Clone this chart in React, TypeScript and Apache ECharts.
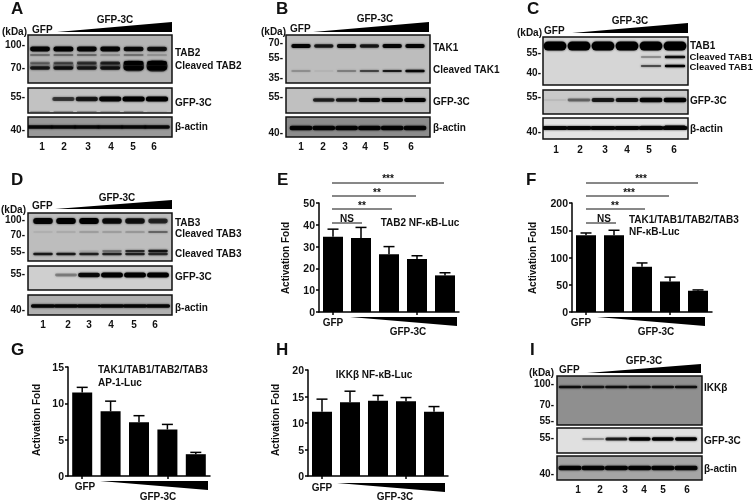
import React, { useEffect, useRef } from "react";
import * as echarts from "echarts";

// ---------- bar data ----------
const barCategories = ["GFP", "GFP-3C 1", "GFP-3C 2", "GFP-3C 3", "GFP-3C 4"];
const eMeans = [34.5, 34, 26.5, 24.3, 16.8];
const eUppers = [38, 38.8, 30, 25.8, 18];
const fMeans = [141, 141, 83, 56, 39];
const fUppers = [145, 150, 90, 64, 40.5];
const gMeans = [11.5, 8.9, 7.4, 6.4, 3];
const gUppers = [12.2, 10.3, 8.3, 7.1, 3.25];
const hMeans = [12.1, 13.9, 14.2, 14.1, 12.1];
const hUppers = [14.5, 16, 15.2, 14.8, 13.1];

// ---------- blot band densities, one value per lane ----------
const tab2Full = [0.95, 1, 0.95, 0.95, 0.9, 0.85];
const tab2Faint = [0.4, 0.45, 0.45, 0.35, 0.4, 0.3];
const tab2CleavedA = [0.3, 0.4, 0.55, 0.65, 1, 1];
const tab2CleavedB = [0.75, 0.8, 0.7, 0.75, 0.95, 1];
const tab2Smear = [0.15, 0.25, 0.25, 0.3, 0.65, 0.75];
const gfpA = [0, 0.6, 0.8, 0.95, 1, 1];
const lowerFaintA = [0.2, 0.25, 0.25, 0.2, 0.25, 0.15];
const actinA = [0.9, 0.9, 0.9, 0.9, 0.9, 0.9];
const tak1Full = [0.95, 0.8, 0.9, 0.8, 0.95, 0.95];
const tak1Cleaved = [0.25, 0.08, 0.35, 0.55, 0.8, 0.95];
const gfpB = [0, 0.75, 0.8, 0.9, 0.95, 1];
const actinB = [0.95, 0.95, 0.95, 0.95, 0.95, 0.95];
const tab1Full = [1, 1, 1, 1, 1, 1];
const tab1CleavedA = [0, 0, 0, 0, 0.35, 0.9];
const tab1CleavedB = [0, 0, 0, 0, 0.55, 1];
const gfpC = [0.05, 0.4, 0.8, 0.85, 0.95, 1];
const actinC = [0.95, 0.95, 0.95, 0.95, 0.95, 0.95];
const actinCUpper = [0, 0, 0, 0, 0.3, 0.7];
const tab3Full = [0.95, 1, 1, 0.9, 0.85, 0.7];
const tab3Faint = [0.1, 0.15, 0.25, 0.25, 0.3, 0.5];
const tab3CleavedA = [0, 0, 0.1, 0.4, 0.7, 0.85];
const tab3CleavedB = [0.8, 0.8, 0.75, 0.75, 0.75, 0.7];
const gfpD = [0, 0.3, 0.9, 1, 1, 1];
const actinD = [0.95, 0.95, 0.95, 0.95, 0.95, 0.95];
const ikkFull = [0.85, 0.8, 0.85, 0.85, 0.85, 0.85];
const gfpI = [0, 0.3, 0.8, 1, 1, 1];
const actinI = [0.95, 0.95, 0.95, 0.95, 0.95, 0.95];

// ---------- layout ----------
const FF = '"Liberation Sans", Arial, sans-serif';
const laneLabels = ["1", "2", "3", "4", "5", "6"];

type Row = { y: number; h: number; w?: number; levels: number[] };
type Panel = { top: number; bottom: number; bg: string; rows: Row[] };
type Blot = { left: number; right: number; first: number; last: number; panels: Panel[] };

const blots: Blot[] = [
  {
    left: 28, right: 172, first: 40, last: 157,
    panels: [
      { top: 35, bottom: 83, bg: "#b4b4b4", rows: [
        { y: 31, h: 13, w: 0.9, levels: tab2Smear },
        { y: 14, h: 5, levels: tab2Full },
        { y: 20, h: 2, levels: tab2Faint },
        { y: 28, h: 4, levels: tab2CleavedA },
        { y: 33, h: 4, levels: tab2CleavedB },
      ] },
      { top: 88, bottom: 113, bg: "#c2c2c2", rows: [
        { y: 11, h: 5, w: 0.95, levels: gfpA },
        { y: 23.5, h: 1.5, w: 0.85, levels: lowerFaintA },
      ] },
      { top: 117, bottom: 137, bg: "#999999", rows: [{ y: 10, h: 3.5, w: 1.1, levels: actinA }] },
    ],
  },
  {
    left: 286, right: 430, first: 301, last: 415,
    panels: [
      { top: 35, bottom: 83, bg: "#bdbdbd", rows: [
        { y: 11, h: 4, levels: tak1Full },
        { y: 36, h: 2.5, levels: tak1Cleaved },
      ] },
      { top: 88, bottom: 113, bg: "#c0c0c0", rows: [{ y: 12, h: 4, w: 0.95, levels: gfpB }] },
      { top: 117, bottom: 137, bg: "#8c8c8c", rows: [{ y: 11, h: 4.5, w: 1.0, levels: actinB }] },
    ],
  },
  {
    left: 543, right: 688, first: 555, last: 675,
    panels: [
      { top: 37, bottom: 85, bg: "#d6d6d6", rows: [
        { y: 9, h: 9, w: 0.95, levels: tab1Full },
        { y: 20, h: 2.5, levels: tab1CleavedA },
        { y: 29, h: 2.5, levels: tab1CleavedB },
      ] },
      { top: 90, bottom: 114, bg: "#c9c9c9", rows: [{ y: 10, h: 4.5, w: 0.95, levels: gfpC }] },
      { top: 118, bottom: 139, bg: "#e4e4e4", rows: [
        { y: 8, h: 2, levels: actinCUpper },
        { y: 10, h: 4, w: 1.05, levels: actinC },
      ] },
    ],
  },
  {
    left: 28, right: 172, first: 43, last: 158,
    panels: [
      { top: 213, bottom: 261, bg: "#bdbdbd", rows: [
        { y: 8, h: 6, levels: tab3Full },
        { y: 19, h: 2, levels: tab3Faint },
        { y: 38, h: 2.5, levels: tab3CleavedA },
        { y: 41, h: 3, levels: tab3CleavedB },
      ] },
      { top: 266, bottom: 290, bg: "#cfcfcf", rows: [{ y: 9, h: 5, w: 0.95, levels: gfpD }] },
      { top: 295, bottom: 315, bg: "#b0b0b0", rows: [{ y: 11, h: 3.5, w: 1.05, levels: actinD }] },
    ],
  },
  {
    left: 557, right: 702, first: 570, last: 686,
    panels: [
      { top: 376, bottom: 425, bg: "#8f8f8f", rows: [{ y: 11, h: 3, w: 0.97, levels: ikkFull }] },
      { top: 428, bottom: 453, bg: "#e0e0e0", rows: [{ y: 11, h: 3.5, w: 0.95, levels: gfpI }] },
      { top: 456, bottom: 480, bg: "#a5a5a5", rows: [{ y: 12, h: 4.5, w: 1.0, levels: actinI }] },
    ],
  },
];

const barCharts = [
  { left: 319, top: 203, height: 109, width: 140, max: 50, step: 10, means: eMeans, uppers: eUppers },
  { left: 572, top: 203, height: 109, width: 140, max: 200, step: 50, means: fMeans, uppers: fUppers },
  { left: 68, top: 367, height: 109, width: 142, max: 15, step: 5, means: gMeans, uppers: gUppers },
  { left: 308, top: 370, height: 106, width: 140, max: 20, step: 5, means: hMeans, uppers: hUppers },
];

const TS = 10;
function text(t: string, x: number, y: number, size = TS, align = "left", rotation = 0) {
  return {
    type: "text", x, y, rotation, z: 50,
    style: { text: t, font: `bold ${size}px ${FF}`, fill: "#111", textAlign: align, textVerticalAlign: "middle" },
  };
}
const tri = (pts: number[][]) => ({ type: "polygon", z: 50, shape: { points: pts }, style: { fill: "#000" } });
const hline = (x1: number, x2: number, y: number) => ({
  type: "line", z: 50, shape: { x1, y1: y, x2, y2: y }, style: { stroke: "#111", lineWidth: 1 },
});

const graphics: any[] = [
  // panel letters
  text("A", 11, 8, 17), text("B", 276, 8, 17), text("C", 527, 8, 17), text("D", 11, 179, 17),
  text("E", 277, 179, 17), text("F", 526, 179, 17), text("G", 11, 349, 17), text("H", 276, 349, 17), text("I", 530, 349, 17),

  // A
  text("(kDa)", 2, 31), text("GFP", 32, 29), text("GFP-3C", 115, 19, TS, "center"),
  tri([[57, 32], [172, 22], [172, 32]]),
  text("100-", 25, 44, TS, "right"), text("70-", 25, 67, TS, "right"), text("55-", 25, 96, TS, "right"), text("40-", 25, 129, TS, "right"),
  text("TAB2", 175, 52), text("Cleaved TAB2", 175, 65), text("GFP-3C", 175, 102), text("β-actin", 175, 126),
  // B
  text("(kDa)", 261, 31), text("GFP", 290, 28), text("GFP-3C", 375, 18, TS, "center"),
  tri([[313, 32], [429, 22], [429, 32]]),
  text("70-", 283, 42, TS, "right"), text("55-", 283, 57, TS, "right"), text("35-", 283, 77, TS, "right"), text("55-", 283, 96, TS, "right"), text("40-", 283, 132, TS, "right"),
  text("TAK1", 433, 47), text("Cleaved TAK1", 433, 69), text("GFP-3C", 433, 101), text("β-actin", 433, 127),
  // C
  text("(kDa)", 517, 32), text("GFP", 544, 30), text("GFP-3C", 630, 20, TS, "center"),
  tri([[572, 33], [688, 23], [688, 33]]),
  text("55-", 541, 52, TS, "right"), text("40-", 541, 72, TS, "right"), text("55-", 541, 96, TS, "right"), text("40-", 541, 131, TS, "right"),
  text("TAB1", 690, 45), text("Cleaved TAB1", 689.5, 56, 9.5), text("Cleaved TAB1", 689.5, 66, 9.5), text("GFP-3C", 690, 100), text("β-actin", 690, 128),
  // D
  text("(kDa)", 1, 209), text("GFP", 32, 205), text("GFP-3C", 117, 197, TS, "center"),
  tri([[55, 209], [172, 200], [172, 209]]),
  text("100-", 25, 219, TS, "right"), text("70-", 25, 234, TS, "right"), text("55-", 25, 251, TS, "right"), text("55-", 25, 273, TS, "right"), text("40-", 25, 309, TS, "right"),
  text("TAB3", 175, 222), text("Cleaved TAB3", 175, 233), text("Cleaved TAB3", 175, 253), text("GFP-3C", 175, 276), text("β-actin", 175, 307),
  // I
  text("(kDa)", 529, 372), text("GFP", 559, 369), text("GFP-3C", 644, 360, TS, "center"),
  tri([[587, 373], [701, 364], [701, 373]]),
  text("100-", 554, 383, TS, "right"), text("70-", 554, 404, TS, "right"), text("55-", 554, 420, TS, "right"), text("55-", 554, 437, TS, "right"), text("40-", 554, 473, TS, "right"),
  text("IKKβ", 704, 387), text("GFP-3C", 704, 440), text("β-actin", 704, 468),

  // E annotations
  hline(332, 444, 183), text("***", 388, 178, 10, "center"),
  hline(332, 416, 196), text("**", 377, 192, 10, "center"),
  hline(332, 392, 209), text("**", 362, 205, 10, "center"),
  hline(332, 362, 223), text("NS", 347, 218, 10, "center"),
  text("TAB2 NF-κB-Luc", 420, 222, TS, "center"),
  text("Activation Fold", 285, 258, TS, "center", Math.PI / 2),
  text("GFP", 333, 322, TS, "center"), text("GFP-3C", 408, 331, TS, "center"),
  tri([[350, 317], [457, 317], [457, 326]]),
  // F annotations
  hline(586, 698, 183), text("***", 641, 178, 10, "center"),
  hline(586, 669, 196), text("***", 629, 192, 10, "center"),
  hline(586, 645, 209), text("**", 615, 205, 10, "center"),
  hline(586, 616, 223), text("NS", 604, 218, 10, "center"),
  text("TAK1/TAB1/TAB2/TAB3", 629, 219), text("NF-κB-Luc", 629, 231),
  text("Activation Fold", 532, 258, TS, "center", Math.PI / 2),
  text("GFP", 581, 322, TS, "center"), text("GFP-3C", 656, 331, TS, "center"),
  tri([[597, 317], [705, 317], [705, 326]]),
  // G annotations
  text("TAK1/TAB1/TAB2/TAB3", 98, 369), text("AP-1-Luc", 98, 382),
  text("Activation Fold", 36, 420, TS, "center", Math.PI / 2),
  text("GFP", 85, 486, TS, "center"), text("GFP-3C", 158, 496, TS, "center"),
  tri([[100, 481], [208, 481], [208, 490]]),
  // H annotations
  text("IKKβ NF-κB-Luc", 374, 374, TS, "center"),
  text("Activation Fold", 275, 420, TS, "center", Math.PI / 2),
  text("GFP", 322, 487, TS, "center"), text("GFP-3C", 395, 496, TS, "center"),
  tri([[337, 483], [445, 483], [445, 492]]),
];

// lane number captions
const laneCaptions: { xs: number[]; y: number }[] = [
  { xs: [42, 64, 88, 111, 133, 154], y: 146 },
  { xs: [301, 323, 345, 365, 386, 411], y: 146 },
  { xs: [556, 580, 605, 627, 649, 674], y: 149 },
  { xs: [43, 68, 89, 111, 134, 155], y: 324 },
  { xs: [578, 600, 625, 644, 663, 687], y: 489 },
];
laneCaptions.forEach((c) => c.xs.forEach((x, i) => graphics.push(text(laneLabels[i], x, c.y, TS, "center"))));

function buildOption() {
  const grid: any[] = [];
  const xAxis: any[] = [];
  const yAxis: any[] = [];
  const series: any[] = [];

  barCharts.forEach((b) => {
    const idx = grid.length;
    grid.push({ left: b.left, top: b.top, width: b.width, height: b.height, containLabel: false });
    xAxis.push({
      gridIndex: idx, type: "category", data: barCategories,
      axisLine: { lineStyle: { color: "#000", width: 1.5 } },
      axisTick: { show: true, alignWithLabel: true, length: 3, lineStyle: { color: "#000", width: 1.5 } },
      axisLabel: { show: false }, splitLine: { show: false },
    });
    yAxis.push({
      gridIndex: idx, type: "value", min: 0, max: b.max, interval: b.step,
      axisLine: { show: true, lineStyle: { color: "#000", width: 1.5 } },
      axisTick: { show: true, length: 3, lineStyle: { color: "#000", width: 1.5 } },
      axisLabel: { color: "#111", fontFamily: FF, fontWeight: "bold", fontSize: 10.5, margin: 4 },
      splitLine: { show: false },
    });
    series.push({
      type: "bar", xAxisIndex: idx, yAxisIndex: idx, data: b.means, barWidth: 20,
      itemStyle: { color: "#000" }, silent: true,
    });
    series.push({
      type: "custom", xAxisIndex: idx, yAxisIndex: idx, silent: true, z: 3,
      data: b.means.map((m, i) => [i, m, b.uppers[i]]),
      renderItem: (_p: any, api: any) => {
        const i = api.value(0);
        const base = api.coord([i, api.value(1)]);
        const top = api.coord([i, api.value(2)]);
        const st = { stroke: "#000", lineWidth: 1.5, fill: "none" };
        return {
          type: "group",
          children: [
            { type: "line", shape: { x1: base[0], y1: base[1], x2: top[0], y2: top[1] }, style: st },
            { type: "line", shape: { x1: top[0] - 5.5, y1: top[1], x2: top[0] + 5.5, y2: top[1] }, style: st },
          ],
        };
      },
    });
  });

  blots.forEach((blot) => {
    const step = (blot.last - blot.first) / 5;
    const laneMin = 1 - (blot.first - blot.left) / step;
    const laneMax = 6 + (blot.right - blot.last) / step;
    blot.panels.forEach((p) => {
      const idx = grid.length;
      const height = p.bottom - p.top;
      grid.push({
        left: blot.left, top: p.top, width: blot.right - blot.left, height, show: true,
        backgroundColor: p.bg, borderColor: "#111", borderWidth: 1.5, containLabel: false,
      });
      xAxis.push({ gridIndex: idx, type: "value", min: laneMin, max: laneMax, show: false });
      yAxis.push({ gridIndex: idx, type: "value", min: 0, max: height, inverse: true, show: false });
      p.rows.forEach((r) => {
        series.push({
          type: "custom", xAxisIndex: idx, yAxisIndex: idx, silent: true, clip: true,
          data: r.levels.map((v, i) => [i + 1, r.y, v]),
          renderItem: (_p: any, api: any) => {
            const level = api.value(2);
            if (level <= 0) return null;
            const c = api.coord([api.value(0), api.value(1)]);
            const w = api.size([r.w ?? 0.85, 0])[0];
            const h = r.h * (0.4 + 0.6 * level);
            return {
              type: "rect",
              shape: { x: c[0] - w / 2, y: c[1] - h / 2, width: w, height: h, r: h / 2 },
              style: {
                fill: "#000", opacity: level,
                shadowBlur: 2.5, shadowColor: "rgba(0,0,0,0.7)",
              },
            };
          },
        });
      });
    });
  });

  return {
    animation: false, backgroundColor: "#fff", tooltip: { show: false },
    grid, xAxis, yAxis, series, graphic: { elements: graphics },
  };
}

export default function App() {
  const ref = useRef<HTMLDivElement>(null);
  useEffect(() => {
    const chart = echarts.init(ref.current!, undefined, { renderer: "svg" });
    chart.setOption(buildOption() as any);
    return () => chart.dispose();
  }, []);
  return (
    <div
      ref={ref}
      style={{ position: "absolute", left: 0, top: 0, width: 754, height: 501, filter: "blur(0.35px)" }}
    />
  );
}
